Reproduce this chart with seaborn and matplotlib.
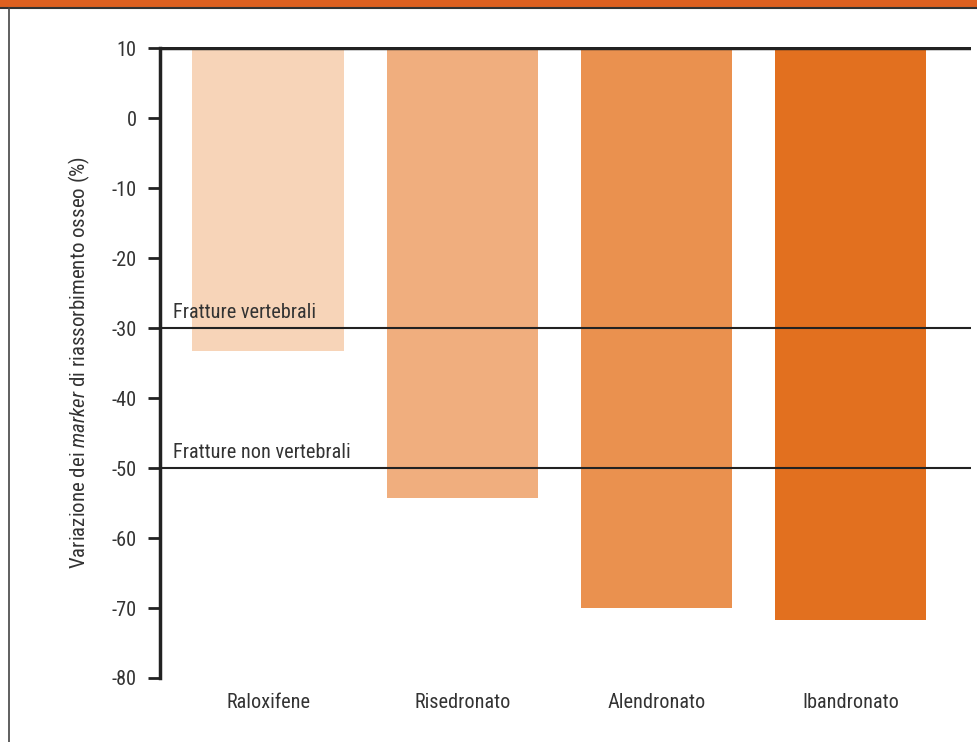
import matplotlib
matplotlib.use("Agg")
import matplotlib.pyplot as plt
import seaborn as sns
import pandas as pd
from matplotlib.lines import Line2D
from matplotlib.patches import Rectangle
from matplotlib import font_manager

# Data
farmaci = ["Raloxifene", "Risedronato", "Alendronato", "Ibandronato"]
variazione = [-33.3, -54.3, -70.0, -71.7]
colori = ["#F7D4B8", "#F0AE7E", "#EA914F", "#E2701F"]
soglie = [-30, -50]
etichette_soglie = ["Fratture vertebrali", "Fratture non vertebrali"]
yticks = [10, 0, -10, -20, -30, -40, -50, -60, -70, -80]
base = 10

sns.set_theme(style="white")
available = {f.name for f in font_manager.fontManager.ttflist}
font = next(f for f in ["Roboto Condensed", "Liberation Sans Narrow", "Roboto",
                        "Liberation Sans", "DejaVu Sans"] if f in available)
plt.rcParams["font.family"] = [font, "DejaVu Sans"]
plt.rcParams["mathtext.fontset"] = "custom"
plt.rcParams["mathtext.rm"] = font
plt.rcParams["mathtext.it"] = font + ":italic"

fig = plt.figure(figsize=(9.78, 7.42), dpi=100)
ax = fig.add_axes([0.1636, 0.0863, 0.9928 - 0.1636, 0.9367 - 0.0863])

df = pd.DataFrame({"farmaco": farmaci, "variazione": variazione})
sns.barplot(data=df, x="farmaco", y="variazione", hue="farmaco",
            palette=colori, saturation=1, width=0.78, legend=False, ax=ax,
            edgecolor="none", linewidth=0)

# bars hang from the top baseline at +10
for p in ax.patches:
    v = p.get_height() if p.get_y() == 0 else p.get_y()
    p.set_y(base)
    p.set_height(v - base)

ax.set_ylim(-80, 10.2)
ax.set_xlim(-0.557, 3.62)
ax.set_yticks(yticks)
ax.set_yticklabels([str(t) for t in yticks])

txtcol = "#333333"
fs = 14.6
ax.tick_params(axis="y", direction="out", length=9, width=2, color="#222222",
               labelsize=fs, labelcolor=txtcol, pad=8, left=True)
ax.tick_params(axis="x", length=0, labelsize=fs, labelcolor=txtcol, pad=11)
ax.set_xlabel("")
ax.set_ylabel(r"Variazione dei $marker$ di riassorbimento osseo (%)",
              fontsize=fs + 0.4, color=txtcol, labelpad=14)

for s in ["top", "right", "bottom"]:
    ax.spines[s].set_visible(False)
ax.spines["left"].set_linewidth(2.5)
ax.spines["left"].set_color("#222222")
ax.spines["left"].set_bounds(-80, 10)

# top baseline and threshold lines
ax.axhline(base, color="#222222", lw=2.5, zorder=3)
for y, lab in zip(soglie, etichette_soglie):
    ax.axhline(y, color="#222222", lw=1.5, zorder=3)
    ax.text(-0.49, y + 0.9, lab, fontsize=fs, color=txtcol,
            ha="left", va="bottom", zorder=4)

# frame decoration: orange band on top, thin border on the left
fig.patches.append(Rectangle((0, 1 - 7 / 742), 1, 7 / 742, transform=fig.transFigure,
                             facecolor="#DD6020", edgecolor="none"))
fig.lines.append(Line2D([0, 1], [1 - 8 / 742, 1 - 8 / 742], transform=fig.transFigure,
                        color="#333333", lw=1.5))
fig.lines.append(Line2D([8.5 / 978, 8.5 / 978], [0, 1 - 8 / 742], transform=fig.transFigure,
                        color="#444444", lw=1.2))

fig.savefig("out.png", dpi=100)
